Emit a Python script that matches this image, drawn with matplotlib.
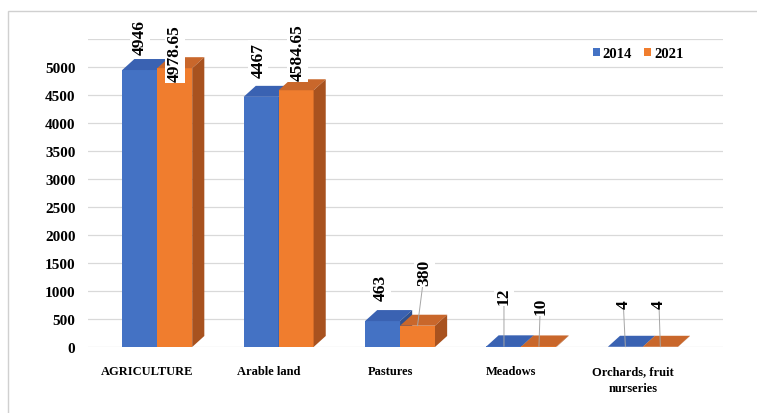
import matplotlib
matplotlib.use("Agg")
import matplotlib.pyplot as plt
from matplotlib.patches import Polygon, Rectangle
import matplotlib.transforms as mtransforms
import numpy as np

categories = ["AGRICULTURE", "Arable land", "Pastures", "Meadows", "Orchards, fruit\nnurseries"]
series_names = ["2014", "2021"]
values_2014 = [4946, 4467, 463, 12, 4]
values_2021 = [4978.65, 4584.65, 380, 10, 4]
label_2014 = ["4946", "4467", "463", "12", "4"]
label_2021 = ["4978.65", "4584.65", "380", "10", "4"]
yticks = [0, 500, 1000, 1500, 2000, 2500, 3000, 3500, 4000, 4500, 5000]

FONT = "Liberation Serif"
plt.rcParams["font.family"] = [FONT, "DejaVu Serif"]

front_cols = ["#4472C4", "#F07D2E"]
top_cols = ["#3A62B2", "#C9672B"]
side_cols = ["#2F5190", "#A8521F"]

fig = plt.figure(figsize=(7.57, 4.14), dpi=100)
ax = fig.add_axes([88 / 757, 1 - 348 / 414, (723 - 88) / 757, (348 - 40) / 414])

ymax = 5500
ax.set_xlim(-0.57, 4.66)
ax.set_ylim(0, ymax)

# gridlines
for t in yticks + [5500]:
    ax.axhline(t, color="#D9D9D9", lw=0.9, zorder=0)

x = np.arange(len(categories))
w = 0.288
dx = 0.10
dy = 11 / 308 * ymax

all_vals = [values_2014, values_2021]
for si, vals in enumerate(all_vals):
    xs = x - w / 2 if si == 0 else x + w / 2
    bars = ax.bar(xs, vals, width=w, color=front_cols[si], zorder=3 + si * 3,
                  label=series_names[si], linewidth=0)
    for b in bars:
        x0 = b.get_x(); x1 = x0 + b.get_width(); v = b.get_height()
        top = Polygon([(x0, v), (x0 + dx, v + dy), (x1 + dx, v + dy), (x1, v)],
                      closed=True, facecolor=top_cols[si], edgecolor="none", zorder=4 + si * 3)
        side = Polygon([(x1, 0), (x1 + dx, dy), (x1 + dx, v + dy), (x1, v)],
                       closed=True, facecolor=side_cols[si], edgecolor="none", zorder=4 + si * 3)
        ax.add_patch(top); ax.add_patch(side)

# data labels (offsets in points: style only)
off_2014 = [(0, 24), (-2, 27), (-1.5, 24.5), (0, 37), (-1.5, 31)]
off_2021 = [(0, 11), (1, 28), (5, 39), (1, 29.5), (-1, 31)]
lead_2014 = [False, False, False, True, True]
lead_2021 = [False, False, True, True, True]
for si, (vals, labs, offs, leads) in enumerate(
        [(values_2014, label_2014, off_2014, lead_2014), (values_2021, label_2021, off_2021, lead_2021)]):
    xs = x - w / 2 if si == 0 else x + w / 2
    for xi, v, lab, off, lead in zip(xs, vals, labs, offs, leads):
        kw = {}
        if lead:
            kw["arrowprops"] = dict(arrowstyle="-", color="#A6A6A6", lw=0.7, shrinkA=0, shrinkB=0)
        ax.annotate(lab, xy=(xi, v), xytext=off, textcoords="offset points",
                    rotation=90, ha="center", va="center", fontsize=12.5, fontweight="bold",
                    fontfamily=FONT, color="black", zorder=20,
                    bbox=dict(boxstyle="square,pad=0.12", facecolor="white", edgecolor="none"),
                    **kw)

ax.set_yticks(yticks)
ax.set_yticklabels([str(t) for t in yticks], fontsize=11, fontweight="bold", fontfamily=FONT)
ax.set_xticks(x)
ax.set_xticklabels(categories, fontsize=9, fontweight="bold", fontfamily=FONT, linespacing=1.5)
ax.tick_params(axis="y", length=0, pad=9)
ax.tick_params(axis="x", length=0, pad=13)
shift = mtransforms.ScaledTranslation(-0.10, 0, fig.dpi_scale_trans)
for lbl in ax.get_xticklabels():
    lbl.set_transform(lbl.get_transform() + shift)
for s in ax.spines.values():
    s.set_visible(False)
ax.set_facecolor("none")

leg = fig.legend(loc="center", bbox_to_anchor=(638 / 757, 1 - 55 / 414), ncol=2, frameon=False,
                 prop={"family": FONT, "weight": "bold", "size": 10.5}, handlelength=0.5,
                 handleheight=0.5, handletextpad=0.2, columnspacing=0.8)

# chart area border
fig.patches.append(Rectangle((8 / 757, -0.05), 1.0, 1 - 12 / 414 + 0.05, transform=fig.transFigure,
                             fill=False, edgecolor="#D0D0D0", lw=1.0))

fig.savefig("out.png", dpi=100)
